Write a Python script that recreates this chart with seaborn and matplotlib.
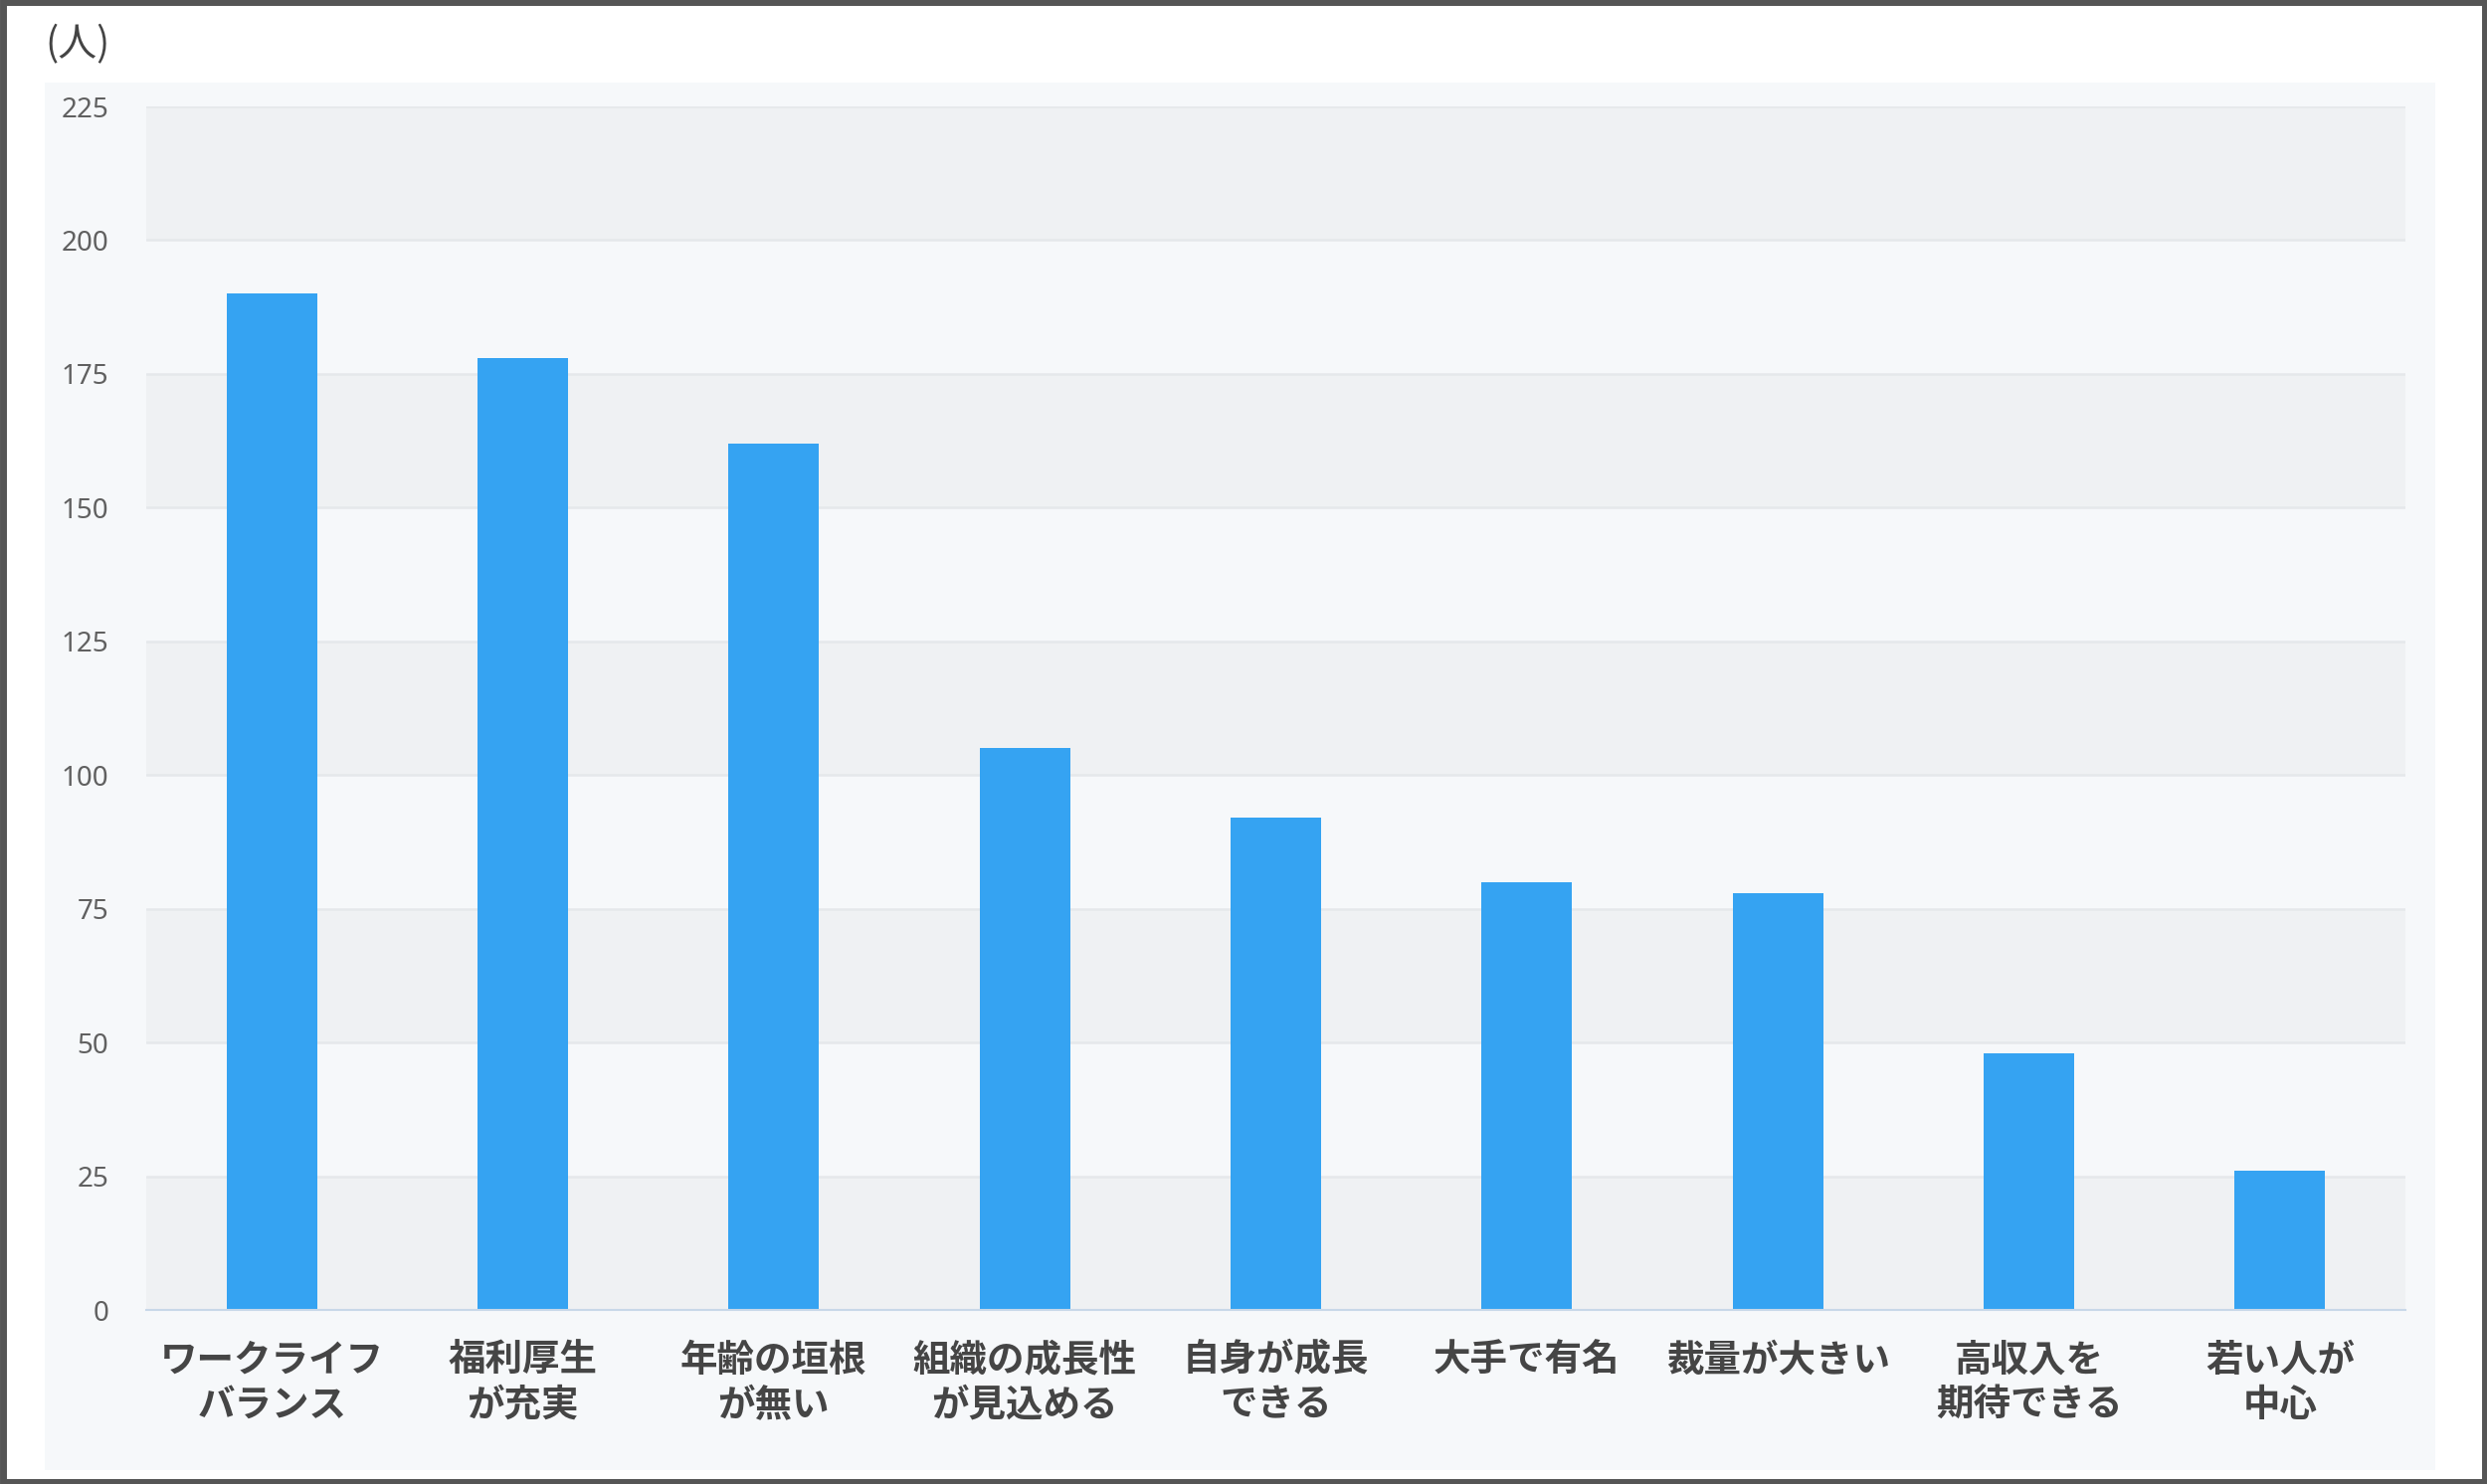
import matplotlib
matplotlib.use("Agg")
import matplotlib.pyplot as plt
import seaborn as sns
from matplotlib.patches import Rectangle

# data
categories = [
    "ワークライフ\nバランス",
    "福利厚生\nが充実",
    "年齢の垣根\nが無い",
    "組織の成長性\nが見込める",
    "自身が成長\nできる",
    "大手で有名",
    "裁量が大きい",
    "高収入を\n期待できる",
    "若い人が\n中心",
]
counts = [190, 178, 162, 105, 92, 80, 78, 48, 26]
yticks = [0, 25, 50, 75, 100, 125, 150, 175, 200, 225]
unit_label = "(人)"

sns.set_theme(style="white")
plt.rcParams['font.family'] = ['Noto Sans CJK JP', 'DejaVu Sans']

W, H = 2500, 1492
fig = plt.figure(figsize=(W / 100, H / 100), dpi=100)
fig.patch.set_facecolor("white")

# light panel behind the chart
fig.patches.append(Rectangle((45 / W, 1 - 1478 / H), (2448 - 45) / W, (1478 - 83) / H,
                             transform=fig.transFigure, facecolor="#f6f8fa",
                             edgecolor="none", zorder=-5))
# dark frame around the whole picture
fig.patches.append(Rectangle((0.001, 0.0015), 0.998, 0.997, transform=fig.transFigure,
                             facecolor="none", edgecolor="#555555", linewidth=5, zorder=10))

ax = fig.add_axes([147 / W, 1 - 1317 / H, (2418 - 147) / W, (1317 - 107) / H])
ax.set_facecolor("#f6f8fa")

# alternating bands + grid lines
for i in range(len(yticks) - 1):
    if i % 2 == 0:
        ax.axhspan(yticks[i], yticks[i + 1], color="#eff1f3", lw=0, zorder=0)
for t in yticks[1:]:
    ax.axhline(t, color="#e5e8eb", lw=1.8, zorder=0.5)

sns.barplot(x=categories, y=counts, color="#35a3f2", saturation=1, width=0.36,
            edgecolor="none", ax=ax, zorder=2)

ax.set_xlim(-0.5, len(categories) - 0.5)
ax.set_ylim(0, 225)
ax.set_yticks(yticks)
ax.set_yticklabels([str(t) for t in yticks], fontsize=20, color="#606060",
                   family=['Noto Sans', 'DejaVu Sans'])
ax.tick_params(axis="y", length=0, pad=27)

ax.set_xticks(range(len(categories)))
ax.set_xticklabels(categories, fontsize=27, fontweight="bold", color="#454545",
                   linespacing=1.2)
ax.tick_params(axis="x", which="major", length=0, pad=22)
ax.set_xticks([i - 0.5 for i in range(len(categories) + 1)], minor=True)
ax.tick_params(axis="x", which="minor", length=11, width=1.5, color="#c8d8e8",
               direction="out")
ax.set_xlabel("")
ax.set_ylabel("")

for s in ["top", "right", "left"]:
    ax.spines[s].set_visible(False)
ax.spines["bottom"].set_color("#c8d8e8")
ax.spines["bottom"].set_linewidth(1.5)

fig.text(45 / W, 1 - 45 / H, unit_label, fontsize=28, color="#444444", va="center")

fig.savefig("out.png", dpi=100)
